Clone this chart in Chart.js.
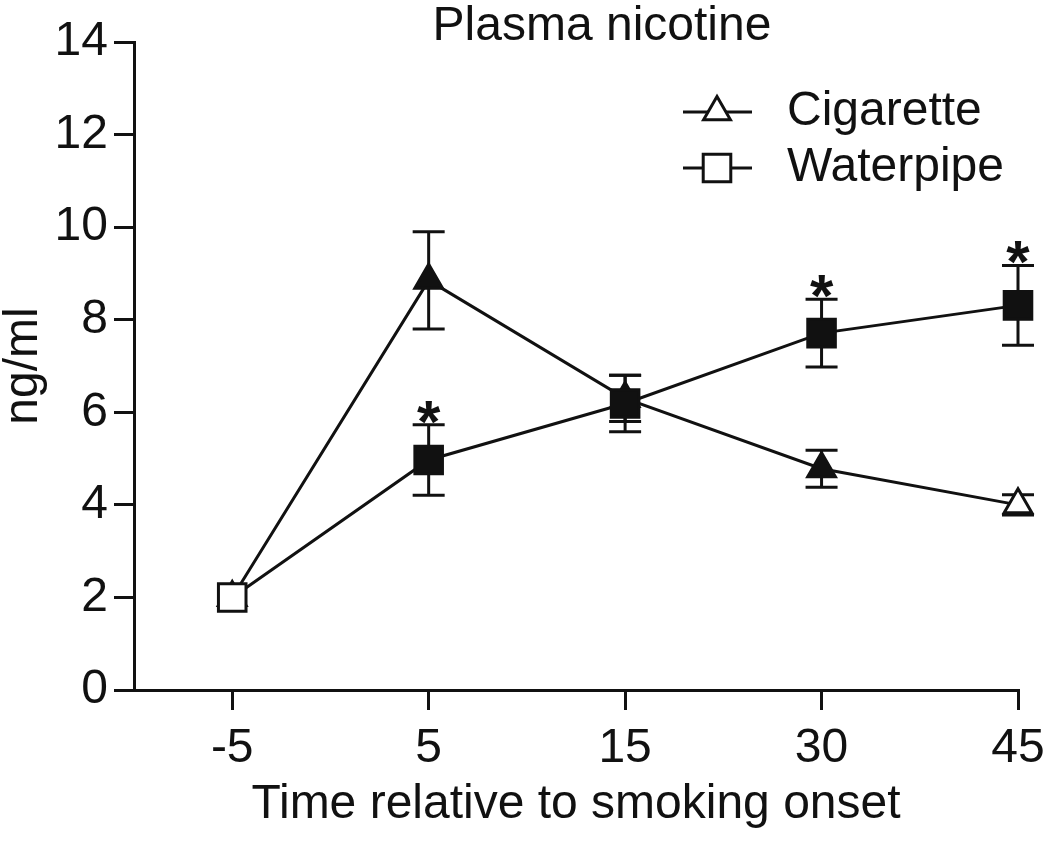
<!DOCTYPE html>
<html>
<head>
<meta charset="utf-8">
<script src="https://cdn.jsdelivr.net/npm/chart.js@4.4.1/dist/chart.umd.min.js"></script>
<style>
  html, body { margin: 0; padding: 0; background: #fff; }
  #wrap { width: 1050px; height: 853px; }
</style>
</head>
<body>
<div id="wrap"><canvas id="c" width="1050" height="853"></canvas></div>
<script>
// ---- Data ----
const timeLabels = ['-5', '5', '15', '30', '45'];
const cigaretteMean = [2.0, 8.85, 6.3, 4.78, 4.0];
const cigaretteSEM  = [0, 1.05, 0.5, 0.4, 0.22];
const cigaretteFilled = [false, true, true, true, false];
const waterpipeMean = [2.0, 4.97, 6.19, 7.71, 8.31];
const waterpipeSEM  = [0, 0.76, 0.61, 0.73, 0.86];
const waterpipeFilled = [false, true, true, true, true];
const waterpipeSignificant = [false, true, false, true, true];
const yTicks = [0, 2, 4, 6, 8, 10, 12, 14];

const INK = '#111';
const FONT = '"Liberation Sans", Arial, Helvetica, sans-serif';

const toXY = (arr) => arr.map((v, i) => ({ x: i, y: v }));

const errorBarPlugin = {
  id: 'errorBars',
  beforeDatasetsDraw(chart) {
    const ctx = chart.ctx;
    const xs = chart.scales.x, ys = chart.scales.y;
    const sets = [[cigaretteMean, cigaretteSEM], [waterpipeMean, waterpipeSEM]];
    ctx.save();
    ctx.strokeStyle = INK;
    ctx.lineWidth = 3;
    sets.forEach(([m, e]) => {
      m.forEach((v, i) => {
        if (!e[i]) return;
        const x = xs.getPixelForValue(i);
        const yt = ys.getPixelForValue(v + e[i]);
        const yb = ys.getPixelForValue(v - e[i]);
        ctx.beginPath();
        ctx.moveTo(x, yt); ctx.lineTo(x, yb);
        ctx.moveTo(x - 16, yt); ctx.lineTo(x + 16, yt);
        ctx.moveTo(x - 16, yb); ctx.lineTo(x + 16, yb);
        ctx.stroke();
      });
    });
    ctx.restore();
  },
  afterDatasetsDraw(chart) {
    const ctx = chart.ctx;
    const xs = chart.scales.x, ys = chart.scales.y;
    ctx.save();
    ctx.fillStyle = INK;
    ctx.font = 'bold 60px ' + FONT;
    ctx.textAlign = 'center';
    ctx.textBaseline = 'alphabetic';
    waterpipeSignificant.forEach((s, i) => {
      if (!s) return;
      const x = xs.getPixelForValue(i);
      const yt = ys.getPixelForValue(waterpipeMean[i] + waterpipeSEM[i]);
      const cy = yt - 18;
      ctx.fillText('*', x, cy + 0.58 * 60);
    });
    ctx.restore();
  },
  afterDraw(chart) {
    const ctx = chart.ctx;
    ctx.save();
    // Title
    ctx.fillStyle = INK;
    ctx.font = '48px ' + FONT;
    ctx.textAlign = 'center';
    ctx.textBaseline = 'middle';
    ctx.fillText('Plasma nicotine', 602, 27);
    // Legend
    const items = [
      { text: 'Cigarette', style: 'triangle', r: 15.5, y: 112 },
      { text: 'Waterpipe', style: 'rect', r: 19.5, y: 168 }
    ];
    items.forEach(it => {
      ctx.strokeStyle = INK;
      ctx.lineWidth = 3;
      ctx.beginPath();
      ctx.moveTo(683, it.y); ctx.lineTo(752, it.y);
      ctx.stroke();
      ctx.fillStyle = '#fff';
      Chart.helpers.drawPoint(ctx, { pointStyle: it.style, radius: it.r, rotation: 0, borderWidth: 3 }, 717, it.y);
      ctx.fillStyle = INK;
      ctx.textAlign = 'left';
      ctx.textBaseline = 'middle';
      ctx.font = '48px ' + FONT;
      ctx.fillText(it.text, 787, it.y);
    });
    ctx.restore();
  }
};

new Chart(document.getElementById('c'), {
  type: 'line',
  data: {
    datasets: [
      {
        label: 'Cigarette',
        data: toXY(cigaretteMean),
        order: 1,
        clip: false,
        borderColor: INK,
        borderWidth: 3,
        tension: 0,
        pointStyle: 'triangle',
        pointRadius: 16,
        pointHoverRadius: 16,
        pointBorderWidth: 3,
        pointBorderColor: INK,
        pointBackgroundColor: cigaretteFilled.map(f => f ? INK : '#fff')
      },
      {
        label: 'Waterpipe',
        data: toXY(waterpipeMean),
        order: 0,
        clip: false,
        borderColor: INK,
        borderWidth: 3,
        tension: 0,
        pointStyle: 'rect',
        pointRadius: 19.5,
        pointHoverRadius: 19.5,
        pointBorderWidth: 3,
        pointBorderColor: INK,
        pointBackgroundColor: waterpipeFilled.map(f => f ? INK : '#fff')
      }
    ]
  },
  options: {
    responsive: false,
    animation: false,
    layout: { padding: { top: 42, right: 32, left: 0, bottom: 0 } },
    plugins: { legend: { display: false }, tooltip: { enabled: false }, title: { display: false } },
    scales: {
      x: {
        type: 'linear',
        min: -0.5,
        max: 4,
        afterBuildTicks(scale) { scale.ticks = timeLabels.map((l, i) => ({ value: i })); },
        afterFit(scale) { scale.height = 163; scale.paddingRight = 0; scale.paddingLeft = 0; },
        grid: { drawOnChartArea: false, drawTicks: true, tickLength: 20, tickColor: INK, lineWidth: 3 },
        border: { display: true, color: INK, width: 3 },
        ticks: {
          color: INK,
          font: { family: FONT, size: 48 },
          padding: 10,
          maxRotation: 0,
          autoSkip: false,
          callback: (v) => timeLabels[v]
        },
        title: {
          display: true,
          text: 'Time relative to smoking onset',
          color: INK,
          font: { family: FONT, size: 48, lineHeight: 1 },
          padding: { top: 0, bottom: 24 }
        }
      },
      y: {
        min: 0,
        max: 14,
        afterBuildTicks(scale) { scale.ticks = yTicks.map(v => ({ value: v })); },
        afterFit(scale) { scale.width = 134; scale.paddingTop = 0; scale.paddingBottom = 0; },
        grid: { drawOnChartArea: false, drawTicks: true, tickLength: 20, tickColor: INK, lineWidth: 3 },
        border: { display: true, color: INK, width: 3 },
        ticks: {
          color: INK,
          font: { family: FONT, size: 48 },
          padding: 6
        },
        title: {
          display: true,
          text: 'ng/ml',
          color: INK,
          font: { family: FONT, size: 48, lineHeight: 1 },
          padding: { top: 0, bottom: 0 }
        }
      }
    }
  },
  plugins: [errorBarPlugin]
});
</script>
</body>
</html>
